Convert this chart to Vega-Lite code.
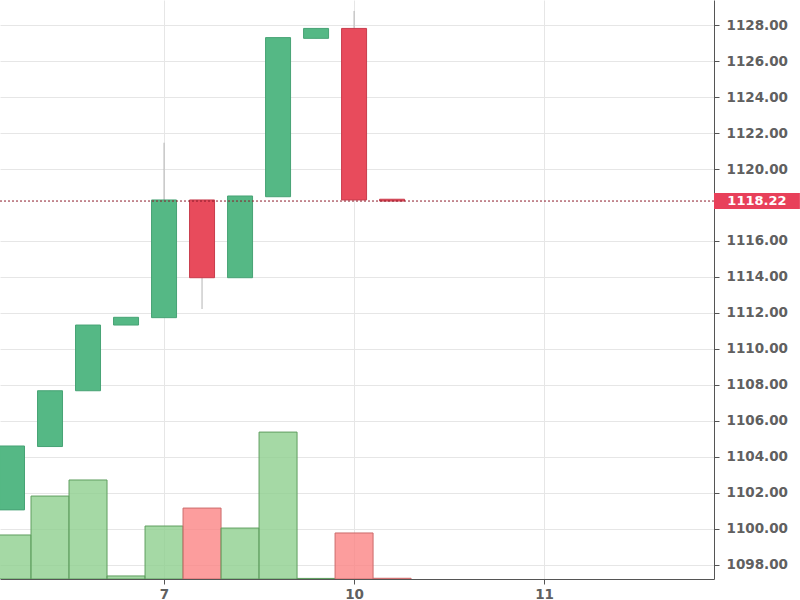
{
  "$schema": "https://vega.github.io/schema/vega-lite/v6.json",
  "width": 714,
  "height": 579,
  "autosize": {"type": "none"},
  "padding": {"left": 0, "top": 0, "right": 86, "bottom": 21},
  "background": "white",
  "config": {
    "view": {"stroke": null},
    "font": "DejaVu Sans",
    "axis": {"labelFont": "DejaVu Sans", "labelFontSize": 13.5, "labelColor": "#606060", "labelFontWeight": "bold", "domainColor": "#555555", "tickColor": "#555555", "gridColor": "#e6e6e6", "title": null, "labelOverlap": false}
  },
  "datasets": {
    "candles": [
      {"i": 0, "open": 1101.06, "high": 1104.61, "low": 1101.06, "close": 1104.61, "volume": 304},
      {"i": 1, "open": 1104.58, "high": 1107.68, "low": 1104.58, "close": 1107.68, "volume": 573},
      {"i": 2, "open": 1107.68, "high": 1111.33, "low": 1107.68, "close": 1111.33, "volume": 684},
      {"i": 3, "open": 1111.33, "high": 1111.76, "low": 1111.33, "close": 1111.76, "volume": 21},
      {"i": 4, "open": 1111.74, "high": 1121.46, "low": 1111.74, "close": 1118.28, "volume": 366},
      {"i": 5, "open": 1118.28, "high": 1118.28, "low": 1112.22, "close": 1113.96, "volume": 490},
      {"i": 6, "open": 1113.96, "high": 1118.5, "low": 1113.96, "close": 1118.5, "volume": 352},
      {"i": 7, "open": 1118.46, "high": 1127.3, "low": 1118.46, "close": 1127.3, "volume": 1015},
      {"i": 8, "open": 1127.26, "high": 1127.81, "low": 1127.26, "close": 1127.81, "volume": 4},
      {"i": 9, "open": 1127.81, "high": 1128.78, "low": 1118.28, "close": 1118.28, "volume": 318},
      {"i": 10, "open": 1118.32, "high": 1118.32, "low": 1118.22, "close": 1118.22, "volume": 5}
    ],
    "last": [{"price": 1118.22}]
  },
  "layer": [
    {
      "data": {"name": "candles"},
      "mark": {"type": "bar", "width": 38, "strokeWidth": 1, "clip": true},
      "encoding": {
        "x": {"field": "i", "type": "quantitative", "scale": {"domain": [-0.316, 18.47], "nice": false, "zero": false, "padding": 0},
          "axis": {"values": [4, 9, 14], "tickCount": 30, "labelExpr": "datum.value == 4 ? '7' : datum.value == 9 ? '10' : '11'", "grid": true, "tickSize": 5, "labelPadding": 3}},
        "y": {"field": "volume", "type": "quantitative", "scale": {"domain": [0, 4000], "nice": false}, "axis": null},
        "fill": {"condition": {"test": "datum.close >= datum.open", "value": "#8fcf8f"}, "value": "#fb8585"},
        "stroke": {"condition": {"test": "datum.close >= datum.open", "value": "#5f9e5f"}, "value": "#cc6b6b"},
        "fillOpacity": {"value": 0.8}
      }
    },
    {
      "data": {"name": "candles"},
      "layer": [
        {
          "mark": {"type": "rule", "strokeWidth": 1, "color": "#b5b5b5"},
          "encoding": {
            "x": {"field": "i", "type": "quantitative"},
            "y": {"field": "low", "type": "quantitative", "scale": {"domain": [1097.22, 1129.39], "nice": false, "zero": false},
              "axis": {"orient": "right", "values": [1098, 1100, 1102, 1104, 1106, 1108, 1110, 1112, 1114, 1116, 1120, 1122, 1124, 1126, 1128], "tickCount": 40, "labelOverlap": false, "format": ".2f", "tickSize": 5, "labelPadding": 7, "grid": true}},
            "y2": {"field": "high"}
          }
        },
        {
          "mark": {"type": "bar", "width": 25, "strokeWidth": 1},
          "encoding": {
            "x": {"field": "i", "type": "quantitative"},
            "y": {"field": "open", "type": "quantitative"},
            "y2": {"field": "close"},
            "fill": {"condition": {"test": "datum.close >= datum.open", "value": "#55b885"}, "value": "#e84b5c"},
            "stroke": {"condition": {"test": "datum.close >= datum.open", "value": "#47a375"}, "value": "#c93c4c"}
          }
        },
        {
          "data": {"name": "last"},
          "mark": {"type": "rule", "color": "#8b1a2a", "strokeDash": [2, 2], "strokeWidth": 1},
          "encoding": {"y": {"field": "price", "type": "quantitative"}}
        },
        {
          "data": {"name": "last"},
          "mark": {"type": "rect", "color": "#e8405a", "clip": false},
          "encoding": {
            "x": {"datum": 18.47},
            "x2": {"datum": 20.73},
            "y": {"datum": 1118.66},
            "y2": {"datum": 1117.78}
          }
        },
        {
          "data": {"name": "last"},
          "mark": {"type": "text", "color": "white", "fontWeight": "bold", "fontSize": 13, "font": "DejaVu Sans", "align": "center", "baseline": "middle", "clip": false, "dy": 0},
          "encoding": {
            "x": {"datum": 19.6},
            "y": {"field": "price", "type": "quantitative"},
            "text": {"field": "price", "type": "quantitative", "format": ".2f"}
          }
        }
      ]
    }
  ],
  "resolve": {"scale": {"y": "independent"}}
}
